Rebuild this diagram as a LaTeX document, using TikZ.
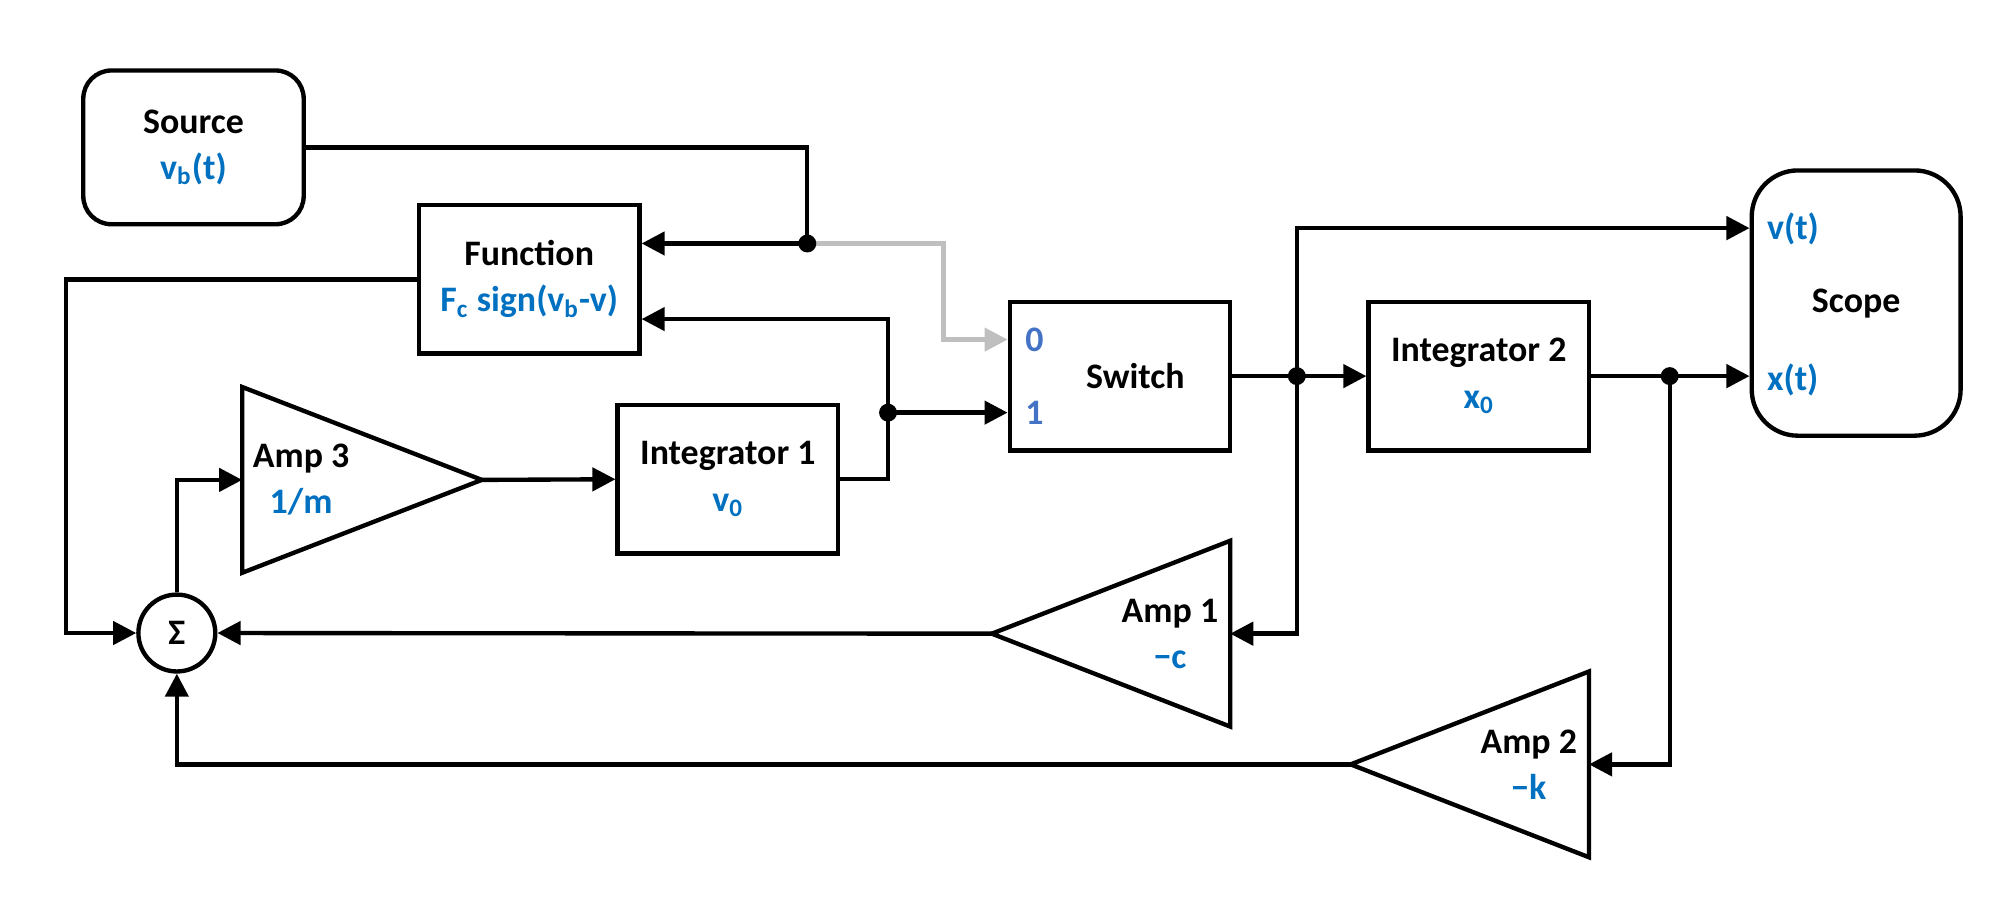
\documentclass[tikz,border=0pt]{standalone}
\usepackage{fontspec}
\setmainfont{Carlito}
\usetikzlibrary{arrows.meta}
\usetikzlibrary{calc}
\usetikzlibrary{positioning}
\definecolor{valblue}{HTML}{0070C0}
\definecolor{portblue}{HTML}{4472C4}
\definecolor{offgray}{HTML}{BFBFBF}
\newcommand{\val}[1]{\textcolor{valblue}{#1}}

\begin{document}
\begin{tikzpicture}[x=0.5pt, y=-0.5pt, line width=1.7pt,
        txt/.style={font=\fontsize{14}{18}\selectfont\bfseries, align=center, inner sep=0pt},
        block/.style={txt, draw, minimum width=86pt, minimum height=58pt},
        roundbox/.style={block, rounded corners=11pt, minimum height=60pt},
        sumnode/.style={draw, circle, minimum size=30pt, inner sep=0pt, font=\fontsize{14}{16}\selectfont\bfseries},
        port/.style={txt, text=portblue},
        sig/.style={-{Triangle[length=9pt, width=9pt]}},
        dot/.style={fill}]
        \useasboundingbox (0,0) rectangle (1567,706.2);

        % Blocks
        \node[roundbox] (src) at (151,115) {Source\\\val{v\textsubscript{b}(t)}};
        \node[block] (fn) at (413,218) {Function\\\val{F\textsubscript{c} sign(v\textsubscript{b}-v)}};
        \node[block] (int1) at (568,374) {Integrator 1\\\val{v\textsubscript{0}}};
        \node[block] (sw) at (874,293.5) {};
        \node[txt] (swtext) at ([xshift=6pt]sw.center) {Switch};
        \node[block] (int2) at (1154,293.5) {Integrator 2\\\val{x\textsubscript{0}}};
        \node[roundbox, rounded corners=18pt, minimum width=81.5pt, minimum height=103.5pt] (scope) at (1448.5,236.5) {Scope};
        \node[sumnode] (sum) at (138,494) {Σ};

        % Amplifiers
        \foreach \n/\bx/\ax/\y/\tx/\v in {3/189/376/374.5/235/{1/m}, 1/960/774/494.5/913/{−c}, 2/1240/1054/596.5/1193/{−k}} {
            \draw (\bx,\y-72.5) -- (\ax,\y) -- (\bx,\y+72.5) -- cycle;
            \coordinate (amp\n in) at (\bx,\y);
            \coordinate (amp\n out) at (\ax,\y);
            \node[txt] (amp\n text) at (\tx,\y) {Amp \n\\\val{\v}};
        }

        % Ports
        \coordinate (fnin1) at ($(fn.east)+(0,-28)$);
        \coordinate (fnin2) at ($(fn.east)+(0,31)$);
        \coordinate (swin0) at ($(sw.west)+(0,-28.5)$);
        \coordinate (swin1) at ($(sw.west)+(0,28.5)$);
        \coordinate (scv) at ($(scope.west)+(0,-58.5)$);
        \coordinate (scx) at (scope.west |- int2.east);
        \node[port] (lbl0) at ($(swin0)+(21,0)$) {0};
        \node[port] (lbl1) at ($(swin1)+(21,0)$) {1};
        \node[txt, anchor=west] (lblv) at ($(scv)+(12,1)$) {\val{v(t)}};
        \node[txt, anchor=west] (lblx) at ($(scx)+(12,3)$) {\val{x(t)}};

        % Junctions
        \coordinate (jsrc) at (630,190);
        \coordinate (j1) at (693,322);
        \coordinate (j2) at (1012,293.5);
        \coordinate (j3) at (1303,293.5);

        % Connectors
        \draw (src.east) -| (jsrc);
        \draw[sig] (jsrc) -- (jsrc -| fn.east);
        \draw[sig, offgray] (jsrc) -| ($(swin0)+(-50,0)$) -- (swin0);
        \draw[sig] (fn.west) -- ++(-274,0) |- (sum.west);
        \draw (int1.east) -| (j1);
        \draw[sig] (j1) |- (fnin2);
        \draw[sig] (j1) -- (swin1);
        \draw[sig] (amp3out) -- (int1.west);
        \draw[sig] (sum.north) |- (amp3in);
        \draw[sig] (sw.east) -- (int2.west);
        \draw[sig] (j2) |- (scv);
        \draw[sig] (j2) |- (amp1in);
        \draw[sig] (amp1out) -- (sum.east);
        \draw[sig] (int2.east) -- (scx);
        \draw[sig] (j3) |- (amp2in);
        \draw[sig] (amp2out) -| (sum.south);

        \foreach \j in {jsrc,j1,j2,j3}
            \fill (\j) circle (3.5pt);
    \end{tikzpicture}
\end{document}
